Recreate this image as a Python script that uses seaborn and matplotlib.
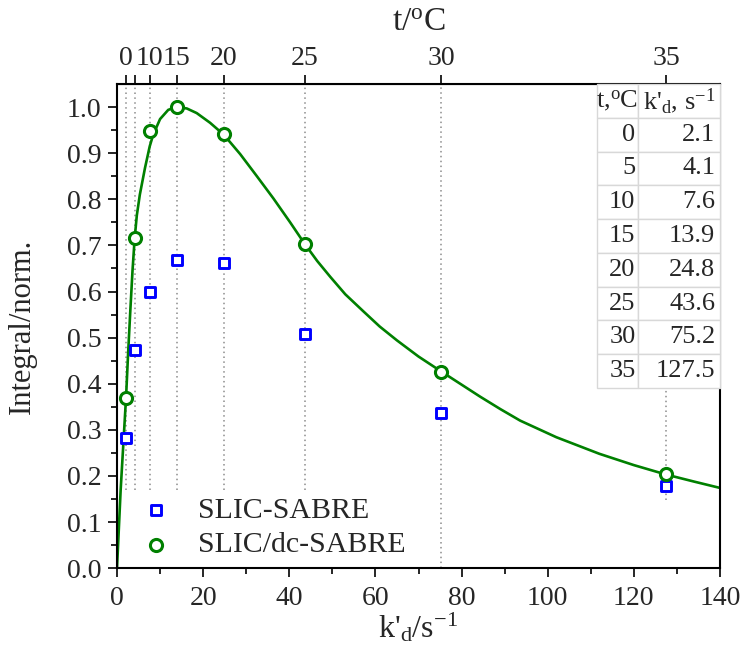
import pandas as pd
import matplotlib.pyplot as plt
import seaborn as sns

# temperatures and exchange rates (also shown in the table)
temp_c = [0, 5, 10, 15, 20, 25, 30, 35]
kd = [2.1, 4.1, 7.6, 13.9, 24.8, 43.6, 75.2, 127.5]
top_labels = ['0', '', '10', '15', '20', '25', '30', '35']

# measured integrals
slic_sabre = [0.283, 0.473, 0.599, 0.668, 0.661, 0.507, 0.336, 0.179]
slic_dc_sabre = [0.368, 0.715, 0.949, 1.000, 0.941, 0.703, 0.426, 0.204]

# fitted curve
fit_kd = [0, 0.85, 2.1, 2.6, 3.1, 3.6, 4.1, 4.6, 5.3, 6.5, 7.6, 8.4, 10.0,
          11.9, 13.9, 16.2, 18.5, 21.6, 24.8, 28.6, 32.4, 36.3, 40.2, 43.6,
          46.5, 49.5, 53.0, 57.2, 61.0, 65.0, 70.0, 75.2, 80.0, 84.3, 89.0,
          93.6, 102.0, 112.0, 120.0, 127.5, 134.0, 140.0]
fit_y = [0, 0.17, 0.37, 0.47, 0.56, 0.645, 0.715, 0.765, 0.81, 0.868, 0.915,
         0.94, 0.974, 0.994, 1.0, 0.997, 0.987, 0.966, 0.94, 0.898, 0.851,
         0.802, 0.750, 0.703, 0.666, 0.632, 0.594, 0.557, 0.524, 0.494,
         0.459, 0.427, 0.398, 0.372, 0.345, 0.320, 0.284, 0.248, 0.2235,
         0.203, 0.1877, 0.174]

fit = pd.DataFrame({'kd': fit_kd, 'y': fit_y})

sns.set_style('ticks')
plt.rcParams['font.family'] = ['Liberation Serif', 'DejaVu Serif']
plt.rcParams['mathtext.fontset'] = 'custom'
plt.rcParams['mathtext.rm'] = 'Liberation Serif'
plt.rcParams['mathtext.it'] = 'Liberation Serif:italic'

fig = plt.figure(figsize=(7.5, 6.7), dpi=100)
ax = fig.add_axes([0.156, 0.152, 0.804, 0.7226])

# dotted guides at each temperature
for k in kd:
    if k == 75.2:
        lo, hi = 0, 1.05
    elif k == 127.5:
        lo, hi = 0.147, 0.4
    else:
        lo, hi = 0.17, 1.05
    ax.plot([k, k], [lo, hi], color='#8c8c8c', ls=(0, (1, 2.2)), lw=1.1, zorder=1)

sns.lineplot(data=fit, x='kd', y='y', color='#008000', lw=1.9, sort=False,
             estimator=None, ax=ax, zorder=2)
sns.scatterplot(x=kd, y=slic_sabre, marker='s', s=50, color='white',
                edgecolor='#0000ff', linewidth=2.1, label='SLIC-SABRE',
                ax=ax, zorder=4)
sns.scatterplot(x=kd, y=slic_dc_sabre, marker='o', s=76, color='white',
                edgecolor='#008000', linewidth=2.2, label='SLIC/dc-SABRE',
                ax=ax, zorder=4)

ax.set_xlim(0, 140)
ax.set_ylim(0, 1.05)
ax.set_xticks(range(0, 141, 20))
ax.set_xticks(range(10, 141, 20), minor=True)
ax.set_yticks([i / 10 for i in range(11)])
ax.set_yticks([i / 20 for i in range(1, 21, 2)], minor=True)
ax.set_yticklabels([f'{i / 10:.1f}' for i in range(11)])
ax.tick_params(which='major', length=6.5, width=1.4, labelsize=20, direction='out')
ax.tick_params(axis='y', pad=4.5)
ax.tick_params(axis='x', pad=6)
ax.tick_params(which='minor', length=4, width=1.4, direction='out')
ax.tick_params(top=False, right=False)
for sp in ax.spines.values():
    sp.set_linewidth(1.5)
    sp.set_color('black')

ax.set_xlabel("k'$_{\\mathrm{d}}$/s$^{-1}$", fontsize=23, labelpad=0)
ax.set_ylabel('Integral/norm.', fontsize=22, labelpad=22)

top = ax.secondary_xaxis('top')
top.set_xticks(kd, top_labels)
top.tick_params(length=6.5, width=1.4, labelsize=20, direction='out', pad=3)
top.set_xlabel('t/$^{\\mathrm{o}}$C', fontsize=24, labelpad=11)

ax.legend(loc='lower left', bbox_to_anchor=(0.015, 0.02), frameon=False,
          fontsize=21.5, handlelength=2.0, handletextpad=0.4,
          labelspacing=0.25, borderpad=0, borderaxespad=0)

# table of temperatures and rates
cells = [[str(t), f'{k:.1f}'] for t, k in zip(temp_c, kd)]
tab = ax.table(cellText=cells,
               colLabels=['t,$^{\\mathrm{o}}$C', "k'$_{\\mathrm{d}}$, s$^{-1}$"],
               colWidths=[0.333, 0.667], bbox=[0.796, 0.372, 0.204, 0.628],
               cellLoc='right', zorder=5)
tab.auto_set_font_size(False)
for (r, c), cell in tab.get_celld().items():
    cell.set_edgecolor('#d8d8d8')
    cell.set_linewidth(1)
    cell.set_facecolor('white')
    cell.get_text().set_fontsize(19)
    cell.PAD = 0.06
    if r == 0:
        cell.get_text().set_ha('center')
        cell._loc = 'center'

fig.savefig('out.png', dpi=100)
